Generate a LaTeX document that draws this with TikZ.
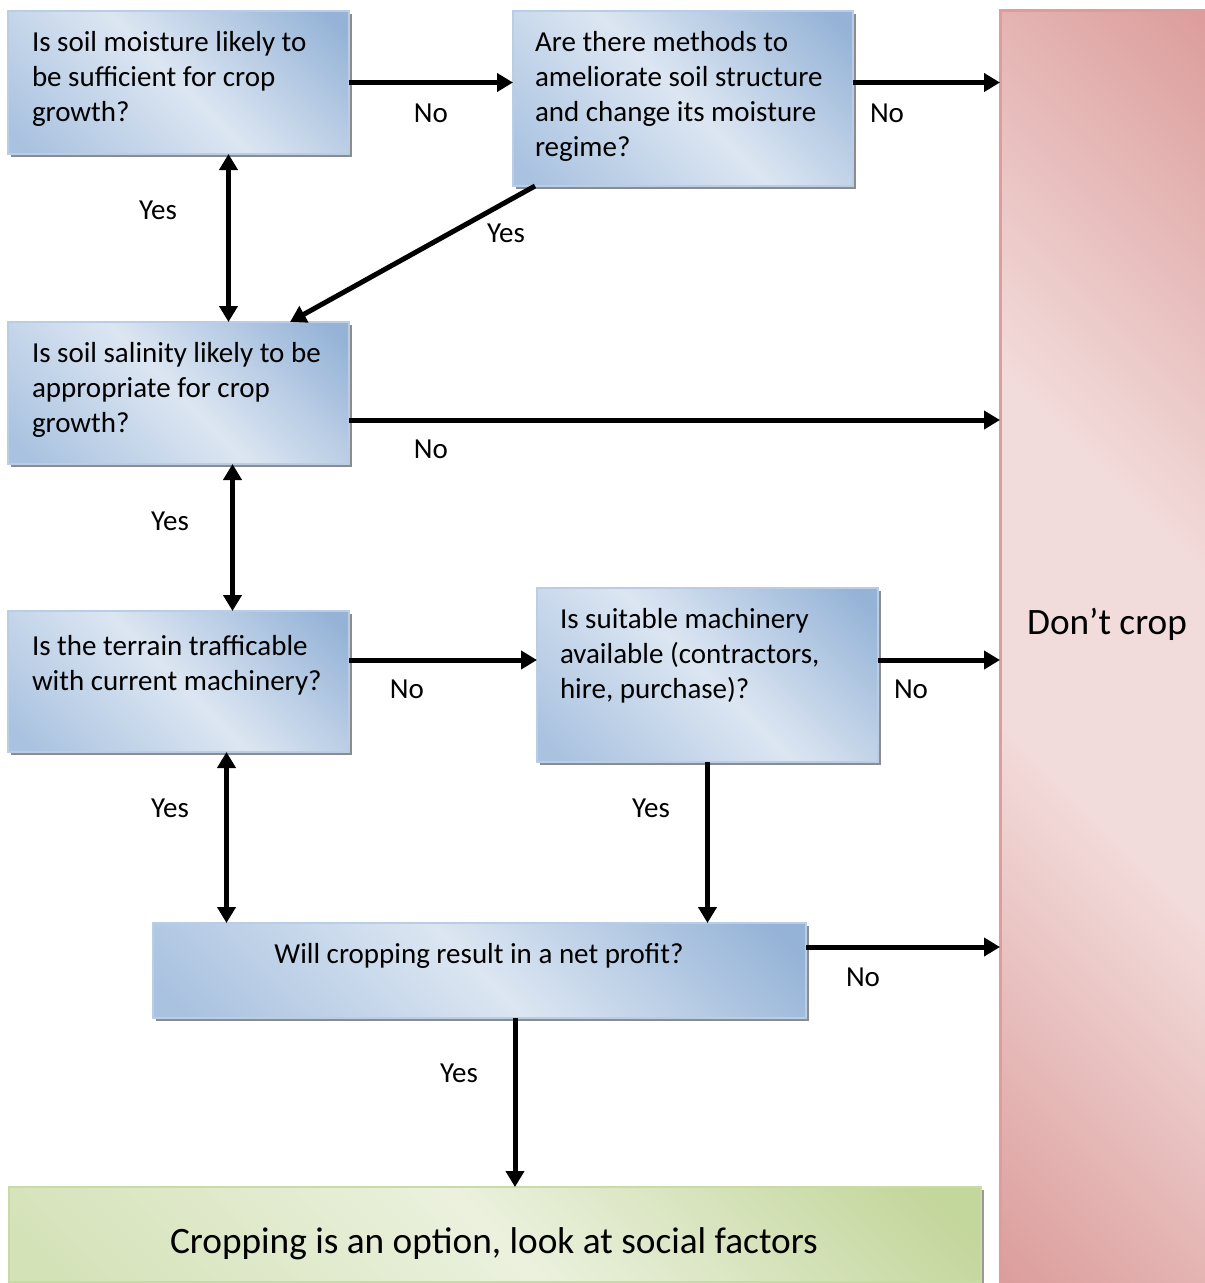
\documentclass[tikz,border=0pt]{standalone}
\usepackage{fontspec}
\setmainfont{Carlito}
\usetikzlibrary{arrows.meta,shadows}

% palette
\definecolor{bdark}{HTML}{95B3D7}
\definecolor{bmed}{HTML}{A9C2E0}
\definecolor{blight}{HTML}{DCE6F2}
\definecolor{bborder}{HTML}{B9CDE5}
\definecolor{rdark}{HTML}{D99694}
\definecolor{rlight}{HTML}{F2DCDB}
\definecolor{rborder}{HTML}{E09C9B}
\definecolor{gdark}{HTML}{C3D69B}
\definecolor{gmed}{HTML}{D4E2B8}
\definecolor{glight}{HTML}{EBF1DE}
\definecolor{gborder}{HTML}{C9DBA5}

% diagonal band gradients (light band from top-left to bottom-right)
\pgfdeclarehorizontalshading{blueband}{100bp}{color(0bp)=(bmed); color(18bp)=(bmed); color(50bp)=(blight); color(82bp)=(bdark); color(100bp)=(bdark)}
\pgfdeclarehorizontalshading{redband}{100bp}{color(0bp)=(rdark); color(12bp)=(rdark); color(42bp)=(rlight); color(58bp)=(rlight); color(88bp)=(rdark); color(100bp)=(rdark)}
\pgfdeclarehorizontalshading{greenband}{100bp}{color(0bp)=(gmed); color(18bp)=(gmed); color(50bp)=(glight); color(82bp)=(gdark); color(100bp)=(gdark)}

\newcommand\lns[1]{\begin{tabular}[t]{@{}l@{}}#1\end{tabular}}

\begin{document}
\begin{tikzpicture}[x=1pt,y=-1pt,
  every node/.style={inner sep=0pt, outer sep=0pt},
  txt/.style={font=\fontsize{29}{35}\selectfont, text=black},
  bigtxt/.style={font=\fontsize{37.3}{44}\selectfont, text=black},
  qbox/.style={anchor=north west, draw=bborder, line width=1.2pt,
    shading=blueband, shading angle=45,
    general shadow={fill=black!45, shadow xshift=3pt, shadow yshift=-3pt}},
  gbox/.style={anchor=north west, draw=gborder, line width=1.2pt,
    shading=greenband, shading angle=45,
    general shadow={fill=black!40, shadow xshift=3pt, shadow yshift=-3pt}},
  rbox/.style={anchor=north west, draw=rborder, line width=3pt,
    shading=redband, shading angle=45},
  arr/.style={line width=5pt, -{Triangle[length=16pt,width=18pt]}},
  darr/.style={line width=5pt, {Triangle[length=16pt,width=18pt]}-{Triangle[length=16pt,width=18pt]}}
]
\useasboundingbox (0,0) rectangle (1205,1283);
\clip (0,0) rectangle (1205,1283);
\fill[white] (0,0) rectangle (1205,1283);

% decision boxes
\node[qbox, minimum width=341pt, minimum height=143pt] (b1) at (8,11) {};
\node[qbox, minimum width=340pt, minimum height=175pt] (b2) at (513,11) {};
\node[qbox, minimum width=341pt, minimum height=142pt] (b3) at (8,322) {};
\node[qbox, minimum width=341pt, minimum height=141pt] (b4) at (8,611) {};
\node[qbox, minimum width=341pt, minimum height=174pt] (b5) at (537,588) {};
\node[qbox, minimum width=653pt, minimum height=95pt] (b6) at (153,923) {};
% outcomes
\node[gbox, minimum width=972pt, minimum height=95pt] (g) at (9,1187) {};
\node[rbox, minimum width=215pt, minimum height=1285pt] (red) at (1000,10) {};

% box texts
\node[txt, anchor=base west] (t1) at (32,51) {\lns{Is soil moisture likely to\\be sufficient for crop\\growth?}};
\node[txt, anchor=base west] (t2) at (535,51) {\lns{Are there methods to\\ameliorate soil structure\\and change its moisture\\regime?}};
\node[txt, anchor=base west] (t3) at (32,362) {\lns{Is soil salinity likely to be\\appropriate for crop\\growth?}};
\node[txt, anchor=base west] (t4) at (32,655) {\lns{Is the terrain trafficable\\with current machinery?}};
\node[txt, anchor=base west] (t5) at (560,628) {\lns{Is suitable machinery\\available (contractors,\\hire, purchase)?}};
\node[txt] (t6) at (479,956) {Will cropping result in a net profit?};
\node[bigtxt] (tg) at (494,1244) {Cropping is an option, look at social factors};
\node[bigtxt] (tr) at (1107,624) {Don’t crop};

% connectors
\draw[arr] (b1.east) -- (b1.east -| b2.west);
\draw[arr] (b2.east |- b1.east) -- (b1.east -| red.west);
\draw[darr] ([xshift=50pt]b1.south) -- ([xshift=50pt]b1.south |- b3.north);
\draw[arr] ([xshift=22pt]b2.south west) -- ([xshift=282pt]b3.north west);
\draw[arr] ([yshift=-27pt]b3.east) -- ([yshift=-27pt]b3.east -| red.west);
\draw[darr] ([xshift=54pt]b3.south) -- ([xshift=54pt]b3.south |- b4.north);
\draw[arr] ([yshift=21.5pt]b4.east) -- ([yshift=21.5pt]b4.east -| b5.west);
\draw[arr] ([yshift=21.5pt]b4.east -| b5.east) -- ([yshift=21.5pt]b4.east -| red.west);
\draw[darr] ([xshift=48pt]b4.south) -- ([xshift=48pt]b4.south |- b6.north);
\draw[arr] (b5.south) -- (b5.south |- b6.north);
\draw[arr] ([yshift=23.5pt]b6.east) -- ([yshift=23.5pt]b6.east -| red.west);
\draw[arr] ([xshift=35.5pt]b6.south) -- ([xshift=35.5pt]b6.south |- g.north);

% connector labels
\node[txt] (n1) at (431,113) {No};
\node[txt] (n2) at (887,113) {No};
\node[txt] (y1) at (158,210) {Yes};
\node[txt] (y2) at (506,233) {Yes};
\node[txt] (n3) at (431,449) {No};
\node[txt] (y3) at (170,521) {Yes};
\node[txt] (n4) at (407,689) {No};
\node[txt] (n5) at (911,689) {No};
\node[txt] (y4) at (170,808) {Yes};
\node[txt] (y5) at (651,808) {Yes};
\node[txt] (n6) at (863,977) {No};
\node[txt] (y6) at (459,1073) {Yes};
\end{tikzpicture}
\end{document}
